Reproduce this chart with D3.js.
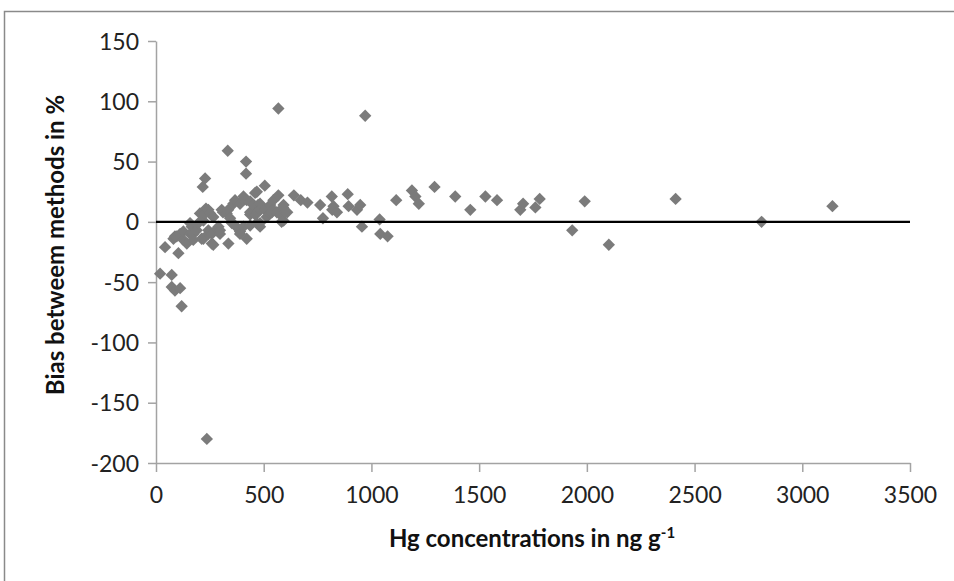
<!DOCTYPE html>
<html>
<head>
<meta charset="utf-8">
<script src="https://cdn.jsdelivr.net/npm/d3@7"></script>
<style>
  html, body { margin: 0; padding: 0; background: #fff; }
  svg { display: block; }
  .tick text { font-family: Lato, "Open Sans", sans-serif; font-size: 23px; fill: #222; }
  .axis-title { font-family: Lato, "Open Sans", sans-serif; font-weight: bold; fill: #111; }
</style>
</head>
<body>
<svg id="chart" width="954" height="581"></svg>
<script>
// Hg concentration (ng g-1) of each sample
const hgConc = [
  19, 42, 73, 73, 88, 112, 119, 104, 81, 88, 96, 112, 127, 127, 143, 158, 158, 166, 173, 173, 189, 197,
  204, 212, 217, 228, 220, 220, 228, 232, 236, 243, 243, 243, 251, 259, 259, 266, 266, 282, 290, 297, 297,
  305, 311, 328, 333, 335, 336, 344, 352, 359, 367, 367, 390, 390, 390,
  406, 406, 406, 418, 418, 421, 421, 437, 437, 437, 437, 452, 460, 460, 468, 468, 468, 474, 483, 483, 483, 483,
  505, 506, 514, 530, 530, 538, 544, 545, 561, 568, 568, 576, 583, 590, 592, 592, 599, 609, 640, 672, 703,
  762, 775, 816, 824, 818, 840, 890, 894, 933, 948, 956, 971,
  1038, 1041, 1075, 1115, 1188, 1204, 1220, 1293, 1389, 1459, 1529, 1583, 1691, 1704, 1761, 1781,
  1932, 1990, 2102, 2412, 2811, 3140
];
// Bias between the two methods (%) for the same samples
const bias = [
  -43, -21, -44, -54, -57, -55, -70, -26, -14, -12, -12, -10, -15, -8, -18, -10, -1, -4, -10, -15, -7, -1,
  7, -14, 29, 36, 1, -14, 7, 11, -180, 10, -7, -10, 7, -10, -18, 4, -19, -6, -4, -7, -10,
  10, 8, 7, 59, 10, -18, 3, -1, 15, 18, -3, 15, -8, -10,
  18, 21, -4, 50, 40, 18, -14, 17, 8, 6, -3, 14, 24, 6, 25, 7, -1, 14, 15, 10, -4, -1,
  30, 10, 4, 14, 7, 8, 10, 18, 8, 94, 22, 6, 0, 12, 14, 1, 8, 8, 22, 18, 16,
  14, 3, 21, 13, 10, 8, 23, 13, 10, 14, -4, 88,
  2, -10, -12, 18, 26, 21, 15, 29, 21, 10, 21, 18, 10, 15, 12, 19,
  -7, 17, -19, 19, 0, 13
];
const xTicks = [0, 500, 1000, 1500, 2000, 2500, 3000, 3500];
const yTicks = [-200, -150, -100, -50, 0, 50, 100, 150];

const svg = d3.select("#chart");
const x = d3.scaleLinear().domain([0, 3500]).range([156, 910]);
const y = d3.scaleLinear().domain([-200, 150]).range([463, 41]);

// outer frame
svg.append("path")
  .attr("d", "M4.5,590 V11.5 H960")
  .attr("fill", "none").attr("stroke", "#8a8a8a").attr("stroke-width", 1.5);

const axisColor = "#a3a3a3";
const plain = d => String(d);

const gy = svg.append("g").attr("transform", `translate(${x(0)},0)`)
  .call(d3.axisLeft(y).tickValues(yTicks).tickSize(8).tickSizeOuter(0).tickPadding(9).tickFormat(plain));
const gx = svg.append("g").attr("transform", `translate(0,${y(-200)})`)
  .call(d3.axisBottom(x).tickValues(xTicks).tickSize(9).tickSizeOuter(0).tickPadding(15).tickFormat(plain));
[gy, gx].forEach(g => {
  g.select(".domain").attr("stroke", axisColor).attr("stroke-width", 1.5);
  g.selectAll(".tick line").attr("stroke", axisColor).attr("stroke-width", 1.5);
});
gy.selectAll(".tick text").attr("dy", "0.35em");

// data markers (rotated squares)
const diamond = d3.symbol().type(d3.symbolSquare).size(76);
svg.append("g").selectAll("path")
  .data(d3.range(hgConc.length))
  .join("path")
  .attr("d", diamond)
  .attr("transform", i => `translate(${x(hgConc[i])},${y(bias[i])}) rotate(45)`)
  .attr("fill", "#7b7b7b");

// zero-bias reference line
svg.append("line")
  .attr("x1", x(0)).attr("x2", x(3500))
  .attr("y1", y(0)).attr("y2", y(0))
  .attr("stroke", "#000").attr("stroke-width", 2.4);

// axis titles
svg.append("text").attr("class", "axis-title")
  .attr("x", 532).attr("y", 547).attr("text-anchor", "middle")
  .attr("font-size", 24)
  .text("Hg concentrations in ng g")
  .append("tspan").attr("dy", -9).attr("font-size", 15).text("-1");

svg.append("text").attr("class", "axis-title")
  .attr("transform", "translate(64,245) rotate(-90)")
  .attr("text-anchor", "middle")
  .attr("font-size", 24)
  .text("Bias betweem methods in %");
</script>
</body>
</html>
